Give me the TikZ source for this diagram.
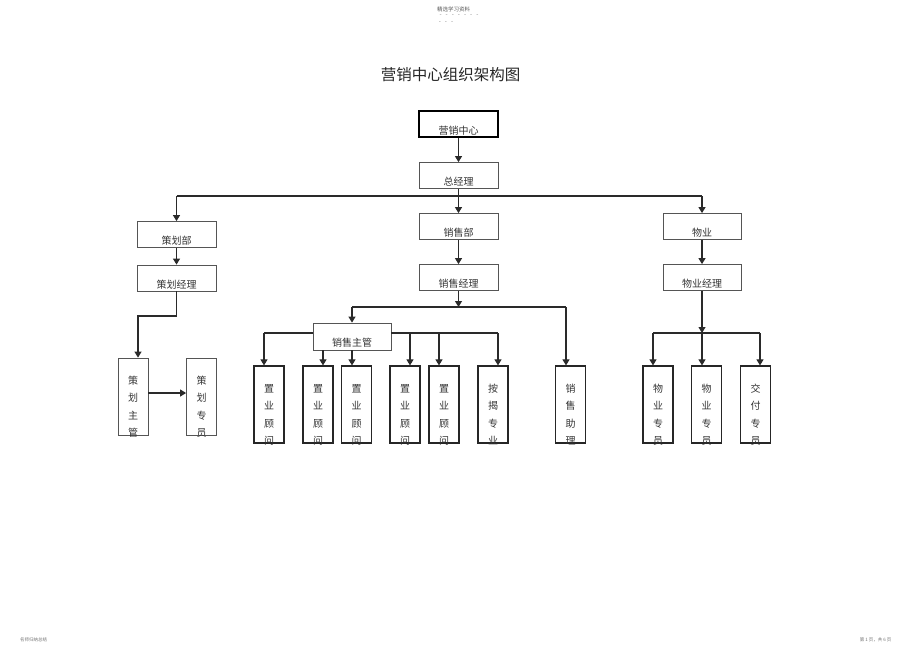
\documentclass[tikz,border=0pt]{standalone}
\usepackage{fontspec}
\setmainfont{Noto Sans CJK SC}
\usetikzlibrary{arrows.meta}
\definecolor{linegray}{HTML}{2A2A2A}
\definecolor{boxgray}{HTML}{555555}
\definecolor{txtgray}{HTML}{333333}
\tikzset{
  hbox/.style={draw=boxgray, line width=0.8pt, minimum width=79pt, minimum height=26pt,
    inner sep=0pt, text height=22pt, text depth=2pt, text=txtgray, font=\fontsize{10}{12}\selectfont},
  vbox/.style={draw=black!85, line width=1.2pt, minimum width=30pt, minimum height=77pt,
    inner sep=0pt, text width=30pt, align=center, text height=26pt, text depth=51pt,
    text=txtgray, font=\fontsize{10}{17.5}\selectfont},
  arr/.style={draw=linegray, line width=1.1pt, -{Triangle[length=6pt,width=7pt]}},
  conn/.style={draw=linegray, line width=1.1pt},
}
\begin{document}
\begin{tikzpicture}[x=1pt,y=-1pt]
%%%%% START %%%%%
\useasboundingbox (0,0) rectangle (920,651);

% page header, title, footer
\node[font=\fontsize{5.5}{6}\selectfont, text=black!65] (hdr) at (453.5,9.5) {精选学习资料};
\node[font=\fontsize{6}{6}\selectfont, text=black!50] (hdra) at (459,16) {-\ \ \ -\ \ \ -\ \ \ -\ \ \ -\ \ \ -\ \ \ -};
\node[font=\fontsize{6}{6}\selectfont, text=black!50] (hdrb) at (446,23) {-\ \ \ -\ \ \ -};
\node[font=\fontsize{15.5}{18}\selectfont, text=black!85] (title) at (450.5,75) {营销中心组织架构图};
\node[font=\fontsize{4.5}{5}\selectfont, text=black!55] (ftl) at (33.5,640) {名师归纳总结};
\node[font=\fontsize{4.5}{5}\selectfont, text=black!55] (ftr) at (875.5,640) {第 1 页，共 6 页};

% top levels
\node[hbox, draw=black, line width=1.8pt] (ymzx) at (458.5,124) {营销中心};
\node[hbox] (zjl) at (458.5,175.5) {总经理};
\node[hbox] (chb) at (176.5,234.5) {策划部};
\node[hbox] (xsb) at (458.5,226.5) {销售部};
\node[hbox, minimum width=78pt] (wy) at (702,226.5) {物业};
\node[hbox] (chjl) at (176.5,278) {策划经理};
\node[hbox] (xsjl) at (458.5,277.5) {销售经理};
\node[hbox, minimum width=78pt] (wyjl) at (702,277.5) {物业经理};
\node[hbox, minimum width=78pt, minimum height=27pt] (xszg) at (352,336.5) {销售主管};

% bottom row
\node[vbox, draw=boxgray, line width=0.8pt] (chzg) at (133,396.5) {策\\划\\主\\管};
\node[vbox, draw=boxgray, line width=0.8pt] (chzy) at (201.5,396.5) {策\\划\\专\\员};
\node[vbox] (zy1) at (269,404.5) {置\\业\\顾\\问};
\node[vbox] (zy2) at (318,404.5) {置\\业\\顾\\问};
\node[vbox] (zy3) at (356.5,404.5) {置\\业\\顾\\问};
\node[vbox] (zy4) at (405,404.5) {置\\业\\顾\\问};
\node[vbox] (zy5) at (444,404.5) {置\\业\\顾\\问};
\node[vbox] (aj) at (493,404.5) {按\\揭\\专\\业};
\node[vbox] (xszl) at (570.5,404.5) {销\\售\\助\\理};
\node[vbox] (wyzy1) at (658,404.5) {物\\业\\专\\员};
\node[vbox] (wyzy2) at (706.5,404.5) {物\\业\\专\\员};
\node[vbox] (jfzy) at (755.5,404.5) {交\\付\\专\\员};

% connectors
\coordinate (bus) at (458.5,196);
\draw[arr] (ymzx) -- (zjl);
\draw[conn, line width=1.8pt] (bus -| chb) -- (bus -| wy);
\draw[arr] (zjl) -- (xsb);
\draw[arr] (bus -| chb) -- (chb);
\draw[arr] (bus -| wy) -- (wy);
\draw[arr] (chb) -- (chjl);
\draw[arr] (xsb) -- (xsjl);
\draw[arr] (wy) -- (wyjl);

% planning
\draw[arr] (chjl) |- (138,316) -- (138,0 |- chzg.north);
\draw[arr] (chzg.east |- 0,393) -- (chzy.west |- 0,393);

% sales
\coordinate (xsbus) at (458.5,307);
\draw[arr] (xsjl) -- (xsbus);
\draw[conn] (xsbus -| xszg) -- (566,307);
\draw[arr] (xsbus -| xszg) -- (xszg);
\draw[arr] (566,307) -- (566,0 |- xszl.north);
\draw[conn] (xszg.west |- 0,333) -- (264,333);
\draw[arr] (264,333) -- (264,0 |- zy1.north);
\draw[arr] (323,0 |- xszg.south) -- (323,0 |- zy2.north);
\draw[arr] (352,0 |- xszg.south) -- (352,0 |- zy3.north);
\draw[conn] (xszg.east |- 0,333) -- (498,333);
\draw[arr] (410,333) -- (410,0 |- zy4.north);
\draw[arr] (439,333) -- (439,0 |- zy5.north);
\draw[arr] (498,333) -- (498,0 |- aj.north);

% property
\coordinate (wybus) at (702,333);
\draw[arr] (wyjl) -- (wybus);
\draw[conn] (653,333) -- (760,333);
\draw[arr] (653,333) -- (653,0 |- wyzy1.north);
\draw[arr] (wybus) -- (702,0 |- wyzy2.north);
\draw[arr] (760,333) -- (760,0 |- jfzy.north);
%%%%% END %%%%%
\end{tikzpicture}
\end{document}
